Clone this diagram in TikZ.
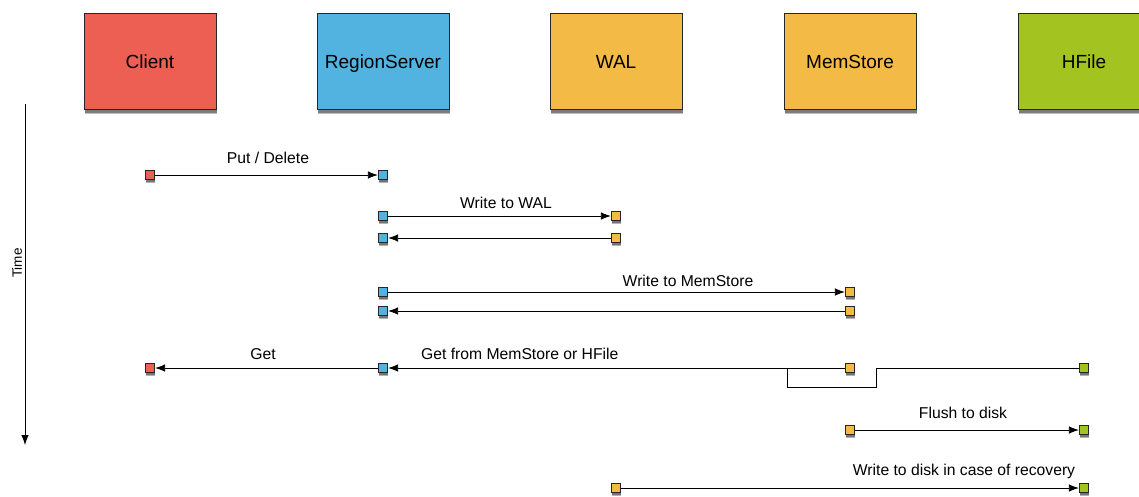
\documentclass[tikz,border=0pt]{standalone}
\usepackage{fontspec}
\setmainfont{Liberation Sans}
\usetikzlibrary{shadows,arrows.meta}
\definecolor{cred}{RGB}{237,95,82}
\definecolor{cblue}{RGB}{82,178,224}
\definecolor{corange}{RGB}{243,186,70}
\definecolor{cgreen}{RGB}{163,195,33}
\tikzset{
  bigbox/.style={draw=black!85, line width=0.8pt, minimum width=132pt, minimum height=96pt, inner sep=0pt,
    font=\fontsize{19}{21}\selectfont, text height=14pt, text depth=0pt,
    general shadow={shadow xshift=1pt, shadow yshift=-5pt, opacity=0.25, fill=black},
    general shadow={shadow xshift=1pt, shadow yshift=-3.5pt, opacity=0.35, fill=black}},
  sq/.style={draw=black!85, line width=0.7pt, minimum size=9.5pt, inner sep=0pt,
    general shadow={shadow xshift=0.5pt, shadow yshift=-3pt, opacity=0.3, fill=black},
    general shadow={shadow xshift=0.5pt, shadow yshift=-1.8pt, opacity=0.35, fill=black}},
  lbl/.style={font=\fontsize{15.7}{18}\selectfont, inner sep=0pt},
  msg/.style={line width=0.8pt, -{Latex[length=10pt,width=7.5pt]}},
  plain/.style={line width=0.8pt}
}
\begin{document}
\begin{tikzpicture}[x=1pt,y=-1pt]
\useasboundingbox (0,0) rectangle (1139,496);
\begin{scope}
\clip (0,0) rectangle (1139,496);
\node[bigbox, fill=cred] (client) at (150,61) {Client};
\node[bigbox, fill=cblue] (rs) at (383,61) {RegionServer};
\node[bigbox, fill=corange] (wal) at (616,61) {WAL};
\node[bigbox, fill=corange] (mem) at (850,61) {MemStore};
\node[bigbox, fill=cgreen] (hf) at (1084,61) {HFile};
\end{scope}

% Time axis
\coordinate (t0) at (25,104);
\coordinate (t1) at (25,445);
\draw[msg] (t0) -- (t1);
\node[font=\fontsize{13.5}{15}\selectfont, rotate=90, inner sep=0pt] (time) at (17,263) {Time};

% Put / Delete
\node[sq, fill=cred] (c1) at (150,175) {};
\node[sq, fill=cblue] (r1) at (383,175) {};
\draw[msg] (c1) -- (r1);
\node[lbl] (l1) at (268,158) {Put / Delete};

% Write to WAL
\node[sq, fill=cblue] (r2) at (383,216) {};
\node[sq, fill=corange] (w2) at (616,216) {};
\draw[msg] (r2) -- (w2);
\node[lbl] (l2) at (506,203) {Write to WAL};
\node[sq, fill=cblue] (r3) at (383,238) {};
\node[sq, fill=corange] (w3) at (616,238) {};
\draw[msg] (w3) -- (r3);

% Write to MemStore
\node[sq, fill=cblue] (r4) at (383,292) {};
\node[sq, fill=corange] (m4) at (850,292) {};
\draw[msg] (r4) -- (m4);
\node[lbl] (l4) at (688,281) {Write to MemStore};
\node[sq, fill=cblue] (r5) at (383,311) {};
\node[sq, fill=corange] (m5) at (850,311) {};
\draw[msg] (m5) -- (r5);

% Get
\node[sq, fill=cred] (c6) at (150,368) {};
\node[sq, fill=cblue] (r6) at (383,368) {};
\node[sq, fill=corange] (m6) at (850,368) {};
\node[sq, fill=cgreen] (h6) at (1084,368) {};
\draw[msg] (r6) -- (c6);
\node[lbl] (l6) at (263,354) {Get};
\coordinate (j1) at (787,368);
\coordinate (j2) at (787,387);
\coordinate (j3) at (876,387);
\coordinate (j4) at (876,368);
\draw[plain] (h6) -- (j4) -- (j3) -- (j2) -- (j1);
\draw[msg] (m6) -- (r6);
\node[lbl, anchor=west] (l7) at (421,354) {Get from MemStore or HFile};

% Flush to disk
\node[sq, fill=corange] (m8) at (850,430) {};
\node[sq, fill=cgreen] (h8) at (1084,430) {};
\draw[msg] (m8) -- (h8);
\node[lbl] (l8) at (963,413) {Flush to disk};

% Recovery
\node[sq, fill=corange] (w9) at (616,488) {};
\node[sq, fill=cgreen] (h9) at (1084,488) {};
\draw[msg] (w9) -- (h9);
\node[lbl] (l9) at (964,471) {Write to disk in case of recovery};
\end{tikzpicture}
\end{document}
